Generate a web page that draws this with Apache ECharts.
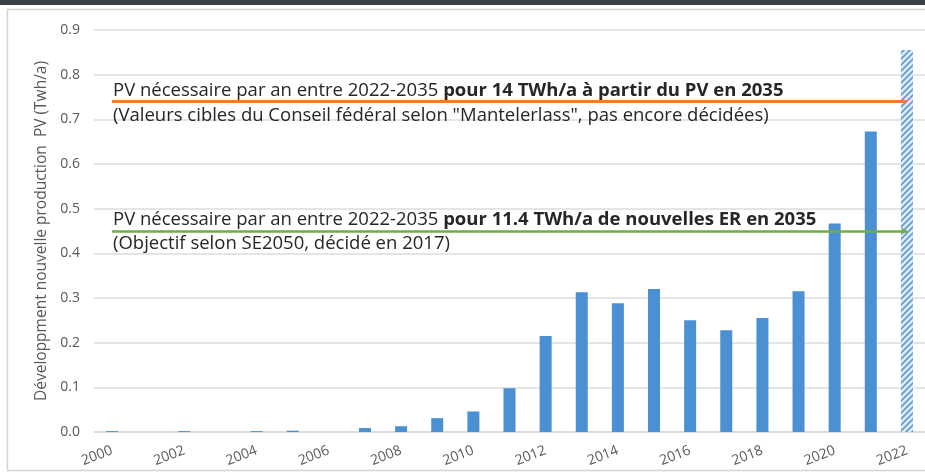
<!DOCTYPE html>
<html>
<head>
<meta charset="utf-8">
<script src="https://cdn.jsdelivr.net/npm/echarts@6/dist/echarts.min.js"></script>
<style>
  html, body { margin: 0; padding: 0; background: #fff; }
  #chart { width: 925px; height: 476px; }
</style>
</head>
<body>
<div id="chart"></div>
<script>
// data
var years = ['2000','2001','2002','2003','2004','2005','2006','2007','2008','2009','2010','2011',
  '2012','2013','2014','2015','2016','2017','2018','2019','2020','2021','2022'];
var pvAdded = [0.002, 0, 0.002, 0, 0.002, 0.003, 0, 0.009, 0.013, 0.031, 0.046, 0.098,
  0.215, 0.313, 0.288, 0.320, 0.250, 0.228, 0.255, 0.315, 0.467, 0.673, 0.855];
var estimatedYear = '2022';
var yTicks = [0, 0.9, 0.1]; // min, max, step
var targetMantel = 0.74;
var targetSE2050 = 0.45;

var font = '"Open Sans", sans-serif';
var noteSize = 18.5;

// hatch pattern for the estimated year
function hatch() {
  var c = document.createElement('canvas');
  c.width = 6; c.height = 6;
  var g = c.getContext('2d');
  g.fillStyle = '#dfeaf7';
  g.fillRect(0, 0, 6, 6);
  g.strokeStyle = '#5a9bd8';
  g.lineWidth = 1.6;
  g.beginPath();
  g.moveTo(0, 6); g.lineTo(6, 0);
  g.moveTo(-3, 3); g.lineTo(3, -3);
  g.moveTo(3, 9); g.lineTo(9, 3);
  g.stroke();
  return c;
}

var barData = pvAdded.map(function (v, i) {
  if (years[i] === estimatedYear) {
    return { value: v, itemStyle: { color: { image: hatch(), repeat: 'repeat' } } };
  }
  return v;
});

function note(x, y, text) {
  return {
    type: 'text', x: x, y: y, z: 10,
    style: {
      text: text, fill: '#262626', font: noteSize + 'px ' + font, verticalAlign: 'middle',
      rich: { b: { fontWeight: 'bold', fontSize: noteSize, fontFamily: font, fill: '#262626' } }
    }
  };
}

var chart = echarts.init(document.getElementById('chart'));
chart.setOption({
  animation: false,
  textStyle: { fontFamily: font },
  grid: { left: 94, top: 30, width: 835, height: 402 },
  xAxis: {
    type: 'category',
    data: years,
    axisLine: { lineStyle: { color: '#d9d9d9', width: 1.5 } },
    axisTick: { show: false },
    axisLabel: { interval: 1, rotate: 21, color: '#595959', fontSize: 14, margin: 18 }
  },
  yAxis: {
    type: 'value',
    min: yTicks[0], max: yTicks[1], interval: yTicks[2],
    name: 'Développment nouvelle production  PV (Twh/a)',
    nameLocation: 'middle',
    nameGap: 37,
    nameTextStyle: { color: '#595959', fontSize: 15.5 },
    axisLabel: { color: '#595959', fontSize: 14, margin: 14, formatter: function (v) { return v.toFixed(1); } },
    splitLine: { lineStyle: { color: '#dcdcdc', width: 1.5 } }
  },
  series: [{
    type: 'bar',
    data: barData,
    barWidth: 12,
    itemStyle: { color: '#4a90d2' },
    markLine: {
      silent: true,
      label: { show: false },
      data: [
        [{ coord: ['2000', targetMantel], symbol: 'none', lineStyle: { color: '#ed7d31', width: 3, type: 'solid' } },
         { coord: ['2022', targetMantel], symbol: 'none' }],
        [{ coord: ['2000', targetSE2050], symbol: 'none', lineStyle: { color: '#70ad47', width: 2.5, type: 'solid' } },
         { coord: ['2022', targetSE2050], symbol: 'arrow', symbolSize: 6 }]
      ]
    }
  }],
  graphic: [
    { type: 'rect', z: -1, shape: { x: 0, y: 0, width: 925, height: 5 }, style: { fill: '#3b4046' } },
    { type: 'rect', z: -1, shape: { x: 7.5, y: 9.5, width: 1000, height: 461 }, style: { fill: 'none', stroke: '#d4d4d4', lineWidth: 1.5 } },
    note(113, 90.5, 'PV nécessaire par an entre 2022-2035 {b|pour 14 TWh/a à partir du PV en 2035}'),
    note(113, 115.5, '(Valeurs cibles du Conseil fédéral selon "Mantelerlass", pas encore décidées)'),
    note(113, 219.5, 'PV nécessaire par an entre 2022-2035 {b|pour 11.4 TWh/a de nouvelles ER en 2035}'),
    note(113, 244, '(Objectif selon SE2050, décidé en 2017)')
  ]
});
</script>
</body>
</html>
